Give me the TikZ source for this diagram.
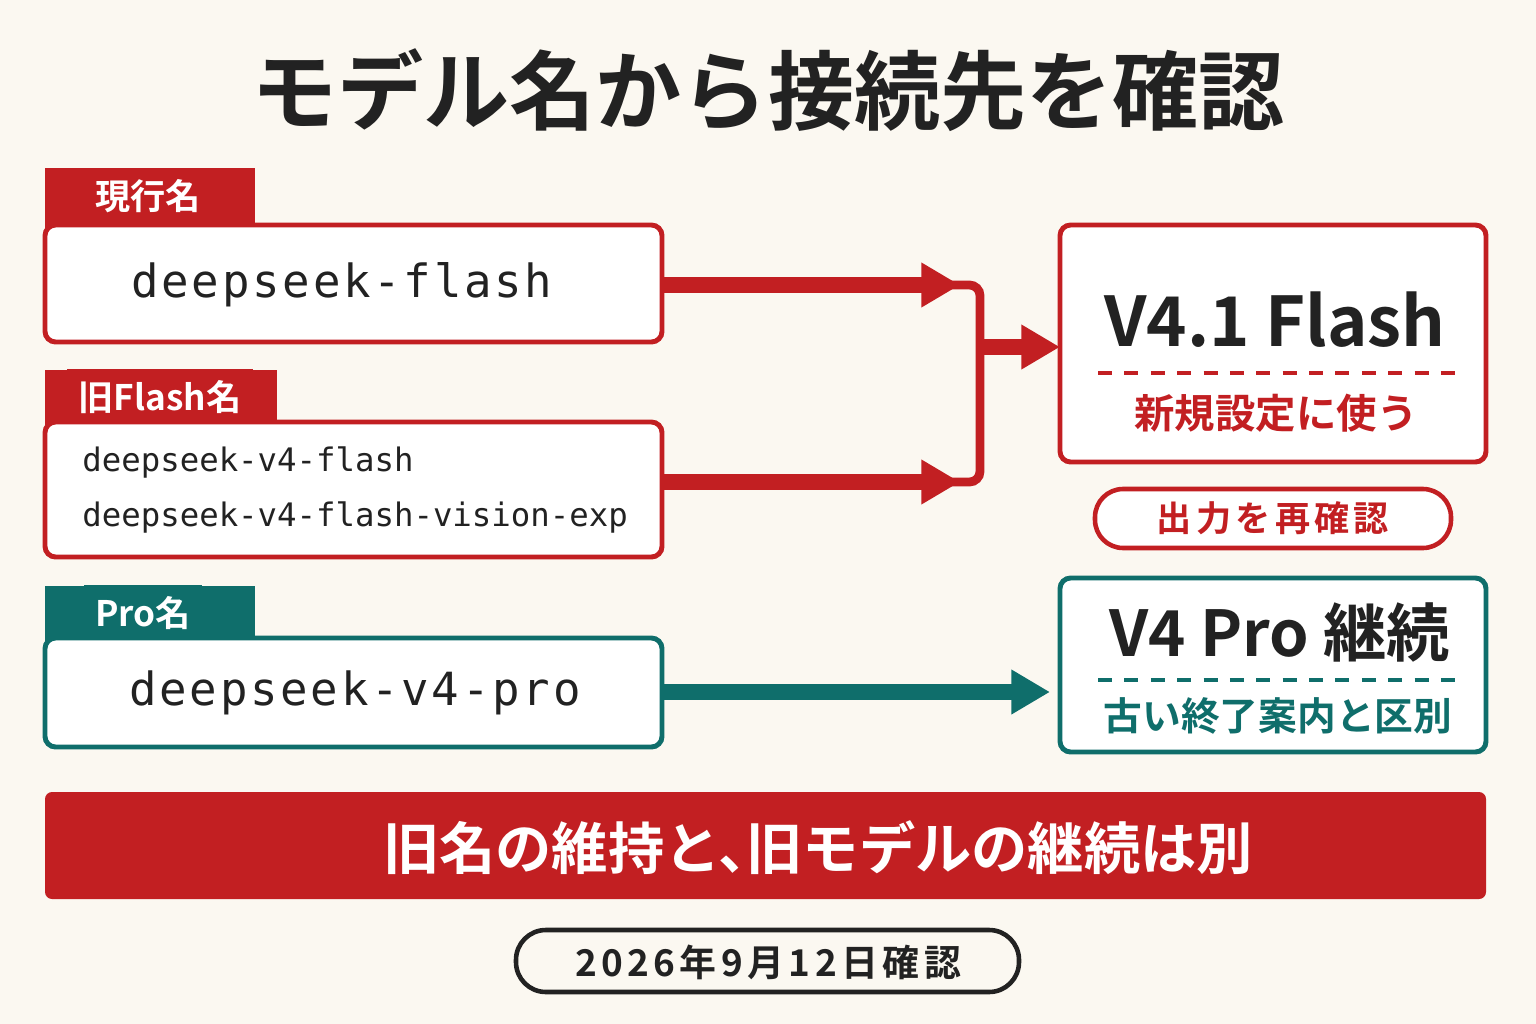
\documentclass[tikz,border=0pt]{standalone}
\usepackage{fontspec}
\setmainfont{Noto Sans CJK JP}[BoldFont={* Bold}]
\newfontfamily\jp{Noto Sans CJK JP}[BoldFont={* Bold}]
\newfontfamily\jpwide{Noto Sans CJK JP}[BoldFont={* Bold},LetterSpace=12]
\newfontfamily\code{DejaVu Sans Mono}[LetterSpace=6]
\newfontfamily\codetight{DejaVu Sans Mono}
\usetikzlibrary{arrows.meta}
\definecolor{cream}{HTML}{FBF8F1}
\definecolor{myred}{HTML}{C21F22}
\definecolor{myteal}{HTML}{0F6E6B}
\definecolor{ink}{HTML}{222222}
\tikzset{
  namebox/.style={draw=#1,line width=1.4pt,fill=white,rounded corners=3pt},
  tab/.style={fill=#1,text=white,font=\jp\bfseries\fontsize{10}{12}\selectfont},
  flow/.style={draw=#1,line width=4.5pt,-{Triangle[length=11pt,width=12pt]}},
  pill/.style={draw=#1,line width=1.3pt,rounded corners=8pt,fill=white}
}
\begin{document}
\begin{tikzpicture}[x=0.01cm,y=-0.01cm]
\fill[cream] (0,0) rectangle (1536,1024);
\useasboundingbox (0,0) rectangle (1536,1024);

% Title
\node[font=\jp\bfseries\fontsize{24.5}{28}\selectfont,text=ink] (title) at (768,90) {モデル名から接続先を確認};

% Current name
\fill[myred] (45,168) rectangle (255,228);
\node[tab=myred] (tcur) at (148,196) {現行名};
\draw[namebox=myred] (45,225) rectangle (662,342);
\node[font=\code\fontsize{13}{15}\selectfont,text=ink] (ncur) at (342,285) {deepseek-flash};
\coordinate (bcur) at (662,285);

% Old Flash names
\fill[myred] (45,370) rectangle (277,425);
\node[tab=myred] (told) at (160,397) {旧Flash名};
\draw[namebox=myred] (45,422) rectangle (662,557);
\node[font=\codetight\fontsize{9.2}{12}\selectfont,text=ink,anchor=west] (nold1) at (70,462) {deepseek-v4-flash};
\node[font=\codetight\fontsize{9.2}{12}\selectfont,text=ink,anchor=west] (nold2) at (70,517) {deepseek-v4-flash-vision-exp};
\coordinate (bold) at (662,482);

% Pro name
\fill[myteal] (45,586) rectangle (255,641);
\node[tab=myteal] (tpro) at (143,613) {Pro名};
\draw[namebox=myteal] (45,638) rectangle (662,747);
\node[font=\code\fontsize{13}{15}\selectfont,text=ink] (npro) at (355,693) {deepseek-v4-pro};
\coordinate (bpro) at (662,692);

% Targets
\draw[namebox=myred] (1060,225) rectangle (1486,462);
\node[font=\jp\bfseries\fontsize{19.5}{24}\selectfont,text=ink] (flash) at (1275,320) {V4.1 Flash};
\draw[myred,line width=1.2pt,dash pattern=on 4pt off 3.5pt] (1098,373) -- (1455,373);
\node[font=\jp\bfseries\fontsize{11.5}{14}\selectfont,text=myred] (fnote) at (1276,413) {新規設定に使う};
\coordinate (fin) at (1060,347);

\draw[pill=myred] (1095,489) rectangle (1451,548);
\node[font=\jpwide\bfseries\fontsize{10}{12}\selectfont,text=myred] (recheck) at (1273,518) {出力を再確認};

\draw[namebox=myteal] (1060,578) rectangle (1486,752);
\node[font=\jp\bfseries\fontsize{18}{22}\selectfont,text=ink] (pro) at (1280,632) {V4 Pro 継続};
\draw[myteal,line width=1.2pt,dash pattern=on 4pt off 3.5pt] (1098,680) -- (1455,680);
\node[font=\jp\bfseries\fontsize{11}{14}\selectfont,text=myteal] (pnote) at (1278,716) {古い終了案内と区別};
\coordinate (pin) at (1050,692);

% Connectors
\coordinate (jcur) at (960,285);
\coordinate (jold) at (960,482);
\coordinate (jmid) at (980,347);
\draw[flow=myred] (bcur) -- (jcur);
\draw[flow=myred] (bold) -- (jold);
\draw[myred,line width=2.5pt,rounded corners=3pt] (950,285) -| (980,482) -- (950,482);
\draw[flow=myred] (jmid) -- (fin);
\draw[flow=myteal] (bpro) -- (pin);

% Banner
\fill[myred,rounded corners=2pt] (45,792) rectangle (1486,899);
\node[font=\jp\bfseries\fontsize{16}{20}\selectfont,text=white] (banner) at (818,848) {旧名の維持と、\hspace{-0.5em}旧モデルの継続は別};

% Date
\draw[draw=ink,line width=1.3pt,rounded corners=8.5pt,fill=cream] (516,930) rectangle (1019,992);
\node[font=\jpwide\bfseries\fontsize{10.5}{13}\selectfont,text=ink] (date) at (768,962) {2026年9月12日確認};
\end{tikzpicture}
\end{document}
